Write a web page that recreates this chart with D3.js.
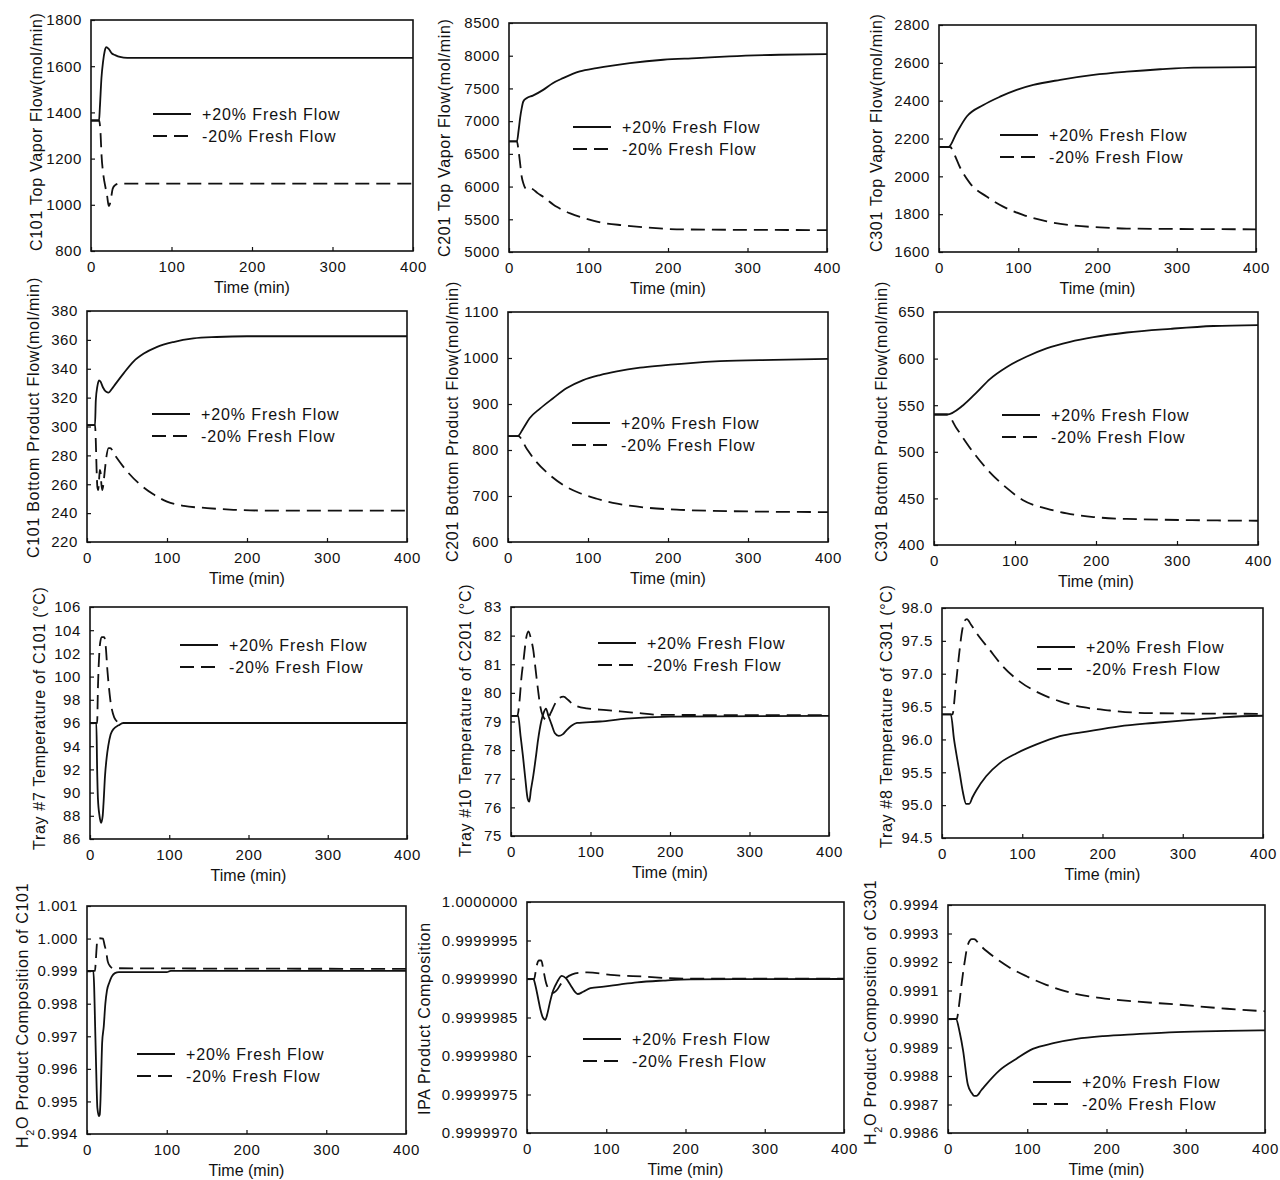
<!DOCTYPE html>
<html>
<head>
<meta charset="utf-8">
<script src="https://cdn.jsdelivr.net/npm/d3@7"></script>
<style>
  html, body { margin: 0; padding: 0; background: #fff; }
  svg { display: block; font-family: "Liberation Sans", Arial, sans-serif; }
</style>
</head>
<body>
<script>
// ---- shared axis values ----
const timeTicks = [0, 100, 200, 300, 400];
const seriesLabels = ["+20% Fresh Flow", "-20% Fresh Flow"];

// ---- C101 top vapor flow (mol/min) ----
const c101TopTicks = [800, 1000, 1200, 1400, 1600, 1800];
const c101TopUp = [[0,1365],[10,1365],[11,1420],[13,1550],[15,1620],[17,1665],[19,1682],[22,1675],[26,1655],[30,1648],[36,1640],[45,1636],[400,1636]];
const c101TopDown = [[0,1365],[10,1365],[12,1300],[13,1220],[15,1140],[18,1075],[20,1040],[22,995],[24,1010],[27,1070],[30,1085],[35,1092],[400,1092]];

// ---- C201 top vapor flow (mol/min) ----
const c201TopTicks = [5000, 5500, 6000, 6500, 7000, 7500, 8000, 8500];
const c201TopUp = [[0,6690],[10,6690],[12,6850],[14,7050],[16,7200],[18,7300],[22,7350],[30,7390],[43,7478],[55,7580],[68,7657],[89,7759],[110,7810],[130,7850],[152,7887],[194,7938],[236,7963],[277,7990],[340,8015],[400,8025]];
const c201TopDown = [[0,6690],[10,6690],[12,6550],[14,6350],[16,6150],[18,6050],[22,5960],[26,5975],[30,5960],[36,5900],[43,5843],[60,5690],[77,5590],[97,5510],[118,5445],[144,5408],[173,5375],[219,5345],[400,5335]];

// ---- C301 top vapor flow (mol/min) ----
const c301TopTicks = [1600, 1800, 2000, 2200, 2400, 2600, 2800];
const c301TopUp = [[0,2155],[12,2155],[22,2228],[35,2316],[56,2377],[77,2421],[98,2457],[119,2483],[153,2510],[195,2536],[237,2553],[279,2566],[321,2575],[400,2577]];
const c301TopDown = [[0,2155],[14,2155],[20,2110],[26,2052],[39,1964],[60,1893],[81,1840],[106,1796],[136,1762],[170,1740],[203,1730],[237,1724],[400,1720]];

// ---- C101 bottom product flow (mol/min) ----
const c101BotTicks = [220, 240, 260, 280, 300, 320, 340, 360, 380];
const c101BotUp = [[0,301],[10,301],[11,318],[13,328],[15,332],[17,331],[20,327],[24,324],[27,323.5],[31,326],[35,329],[46,337],[58,345],[71,350.5],[87,355],[108,358.5],[133,361],[162,362],[200,362.5],[400,362.5]];
const c101BotDown = [[0,301],[10,301],[11,290],[12,270],[13,258],[14,256],[15,262],[16,270],[17,268],[18,260],[19,256],[20,258],[22,268],[24,278],[27,285],[29,285],[35,280],[50,269],[66,260],[83,253],[100,248],[121,245],[150,243.5],[183,242.3],[220,241.8],[400,241.8]];

// ---- C201 bottom product flow (mol/min) ----
const c201BotTicks = [600, 700, 800, 900, 1000, 1100];
const c201BotUp = [[0,830],[12,830],[19,847],[27,869],[40,890],[56,912],[73,934],[94,952],[115,963],[136,971],[165,979],[194,984],[228,989],[265,993],[332,996],[400,998]];
const c201BotDown = [[0,830],[13,830],[23,804],[35,775],[52,746],[69,724],[90,706],[111,694],[131,685],[152,679],[177,674],[215,670],[278,667],[400,665]];

// ---- C301 bottom product flow (mol/min) ----
const c301BotTicks = [400, 450, 500, 550, 600, 650];
const c301BotUp = [[0,540],[16,540],[36,550],[53,564],[69,578],[90,591],[114,602],[139,611],[168,618],[197,623],[238,628],[292,632],[345,635],[400,636]];
const c301BotDown = [[0,540],[16,540],[28,525],[48,500],[69,478],[90,461],[110,448],[139,439],[164,434],[197,430],[238,428],[400,426]];

// ---- Tray #7 temperature of C101 (°C) ----
const c101TrayTicks = [86, 88, 90, 92, 94, 96, 98, 100, 102, 104, 106];
const c101TrayUp = [[0,96],[8,96],[9,92],[10,89.5],[12,88],[14,87.4],[16,88],[17,89],[19,91.5],[21,93],[23,94],[26,95],[30,95.5],[36,95.8],[42,96],[400,96]];
const c101TrayDown = [[0,96],[9,96],[10,99],[11,101],[13,103],[15,103.4],[18,103.4],[20,102.5],[22,100.5],[24,99],[26,97.8],[29,96.8],[32,96.3],[38,96],[400,96]];

// ---- Tray #10 temperature of C201 (°C) ----
const c201TrayTicks = [75, 76, 77, 78, 79, 80, 81, 82, 83];
const c201TrayUp = [[0,79.2],[9,79.2],[12,78.5],[15,77.8],[18,77],[21,76.3],[23,76.2],[25,76.6],[28,77.1],[31,77.7],[34,78.35],[38,79],[41,79.3],[44,79.45],[47,79.2],[51,78.9],[55,78.6],[60,78.5],[65,78.55],[70,78.7],[76,78.85],[83,78.95],[112,79.0],[145,79.1],[200,79.17],[400,79.2]];
const c201TrayDown = [[0,79.2],[8,79.2],[11,79.8],[13,80.5],[16,81.2],[19,81.9],[22,82.15],[25,81.9],[28,81.5],[31,80.8],[34,80.1],[37,79.5],[40,79.2],[45,79.05],[50,79.3],[55,79.6],[60,79.8],[66,79.87],[72,79.75],[78,79.6],[95,79.46],[120,79.4],[158,79.3],[190,79.23],[400,79.22]];

// ---- Tray #8 temperature of C301 (°C) ----
const c301TrayTicks = [94.5, 95.0, 95.5, 96.0, 96.5, 97.0, 97.5, 98.0];
const c301TrayUp = [[0,96.38],[11,96.38],[15,96.0],[19,95.7],[22,95.49],[26,95.2],[30,95.02],[34,95.02],[38,95.12],[43,95.23],[55,95.44],[72,95.64],[93,95.79],[117,95.92],[147,96.05],[180,96.12],[221,96.2],[263,96.25],[313,96.3],[354,96.34],[400,96.36]];
const c301TrayDown = [[0,96.38],[13,96.38],[17,96.8],[21,97.26],[25,97.65],[28,97.8],[31,97.83],[36,97.75],[43,97.62],[59,97.37],[76,97.11],[97,96.88],[122,96.7],[147,96.58],[176,96.49],[209,96.44],[259,96.4],[400,96.39]];

// ---- H2O product composition of C101 ----
const c101CompTicks = [0.994, 0.995, 0.996, 0.997, 0.998, 0.999, 1.000, 1.001];
const c101CompUp = [[0,0.99901],[8,0.99901],[9,0.9985],[10,0.9975],[11,0.9965],[12,0.9955],[13,0.9948],[15,0.99455],[16,0.9946],[17,0.9951],[18,0.996],[19,0.9968],[21,0.9973],[23,0.998],[25,0.9984],[28,0.99865],[31,0.99883],[35,0.99894],[40,0.99897],[100,0.99897],[105,0.99901],[400,0.99901]];
const c101CompDown = [[0,0.99901],[10,0.99901],[11,0.9993],[12,0.9997],[13,0.99998],[15,1.00001],[20,1.0],[22,0.9998],[24,0.9996],[26,0.9993],[29,0.99915],[33,0.99909],[400,0.99907]];

// ---- IPA product composition ----
const ipaCompTicks = [0.9999970, 0.9999975, 0.9999980, 0.9999985, 0.9999990, 0.9999995, 1.0000000];
const ipaCompUp = [[0,0.9999990],[8,0.9999990],[11,0.9999989],[14,0.99999875],[17,0.9999986],[20,0.9999985],[23,0.99999847],[26,0.99999856],[29,0.9999987],[33,0.99999885],[38,0.99999896],[44,0.99999904],[49,0.99999901],[55,0.99999892],[60,0.99999884],[64,0.999998805],[71,0.999998835],[80,0.99999888],[97,0.9999989],[118,0.99999893],[139,0.999998957],[172,0.99999898],[206,0.999998995],[400,0.9999990]];
const ipaCompDown = [[0,0.9999990],[9,0.9999990],[11,0.9999991],[13,0.9999992],[15,0.99999924],[18,0.99999924],[21,0.9999991],[24,0.99999895],[28,0.99999886],[33,0.99999882],[38,0.99999886],[43,0.99999894],[50,0.99999902],[57,0.99999906],[65,0.99999908],[76,0.999999085],[110,0.99999905],[150,0.99999903],[180,0.99999901],[210,0.999999005],[400,0.999999005]];

// ---- H2O product composition of C301 ----
const c301CompTicks = [0.9986, 0.9987, 0.9988, 0.9989, 0.9990, 0.9991, 0.9992, 0.9993, 0.9994];
const c301CompUp = [[0,0.99900],[10,0.99900],[15,0.99895],[19,0.99889],[25,0.99877],[30,0.99874],[33,0.99873],[36,0.99873],[42,0.99875],[48,0.99877],[65,0.99882],[86,0.99886],[107,0.998895],[133,0.998915],[162,0.99893],[196,0.99894],[238,0.998947],[288,0.998954],[352,0.998958],[400,0.99896]];
const c301CompDown = [[0,0.99900],[11,0.99900],[14,0.99905],[17,0.99912],[21,0.9992],[25,0.99926],[30,0.99928],[33,0.99928],[40,0.99926],[57,0.99922],[78,0.99918],[99,0.99915],[124,0.99912],[158,0.99909],[192,0.999074],[234,0.999062],[288,0.999051],[352,0.999036],[400,0.999027]];

// ---- panel layout: plot box [left, top, right, bottom], title x / start y, legend anchor ----
const panels = [
  { title: "C101 Top Vapor Flow(mol/min)", ticks: c101TopTicks, fmt: "d", up: c101TopUp, down: c101TopDown,
    box: [91, 20, 413, 251], tx: 36, ty: 251, legend: [153, 114] },
  { title: "C201 Top Vapor Flow(mol/min)", ticks: c201TopTicks, fmt: "d", up: c201TopUp, down: c201TopDown,
    box: [509, 23, 827, 252], tx: 444, ty: 257, legend: [573, 127] },
  { title: "C301 Top Vapor Flow(mol/min)", ticks: c301TopTicks, fmt: "d", up: c301TopUp, down: c301TopDown,
    box: [939, 25, 1256, 252], tx: 876, ty: 252, legend: [1000, 135] },
  { title: "C101 Bottom Product Flow(mol/min)", ticks: c101BotTicks, fmt: "d", up: c101BotUp, down: c101BotDown,
    box: [87, 311, 407, 542], tx: 33, ty: 558, legend: [152, 414] },
  { title: "C201 Bottom Product Flow(mol/min)", ticks: c201BotTicks, fmt: "d", up: c201BotUp, down: c201BotDown,
    box: [508, 312, 828, 542], tx: 452, ty: 562, legend: [572, 423] },
  { title: "C301 Bottom Product Flow(mol/min)", ticks: c301BotTicks, fmt: "d", up: c301BotUp, down: c301BotDown,
    box: [934, 312, 1258, 545], tx: 881, ty: 562, legend: [1002, 415] },
  { title: "Tray #7 Temperature of C101 (\u00B0C)", ticks: c101TrayTicks, fmt: "d", up: c101TrayUp, down: c101TrayDown,
    box: [90, 607, 407, 839], tx: 39, ty: 850, legend: [180, 645] },
  { title: "Tray #10 Temperature of C201 (\u00B0C)", ticks: c201TrayTicks, fmt: "d", up: c201TrayUp, down: c201TrayDown,
    box: [511, 607, 829, 836], tx: 465, ty: 857, legend: [598, 643] },
  { title: "Tray #8 Temperature of C301 (\u00B0C)", ticks: c301TrayTicks, fmt: ".1f", up: c301TrayUp, down: c301TrayDown,
    box: [942, 608, 1263, 838], tx: 886, ty: 848, legend: [1037, 647] },
  { title: ["H", "2", "O Product Composition of C101"], ticks: c101CompTicks, fmt: ".3f", up: c101CompUp, down: c101CompDown,
    box: [87, 906, 406, 1134], tx: 22, ty: 1148, legend: [137, 1054] },
  { title: "IPA Product Composition", ticks: ipaCompTicks, fmt: ".7f", up: ipaCompUp, down: ipaCompDown,
    box: [527, 902, 844, 1133], tx: 424, ty: 1115, legend: [583, 1039] },
  { title: ["H", "2", "O Product Composition of C301"], ticks: c301CompTicks, fmt: ".4f", up: c301CompUp, down: c301CompDown,
    box: [948, 905, 1265, 1133], tx: 870, ty: 1145, legend: [1033, 1082] }
];

const ink = "#111";
const dash = "14,7";

const svg = d3.select("body").append("svg")
  .attr("width", 1280).attr("height", 1180);

panels.forEach(p => {
  const [x0, y0, x1, y1] = p.box;
  const x = d3.scaleLinear().domain([0, 400]).range([x0, x1]);
  const y = d3.scaleLinear().domain(d3.extent(p.ticks)).range([y1, y0]);
  const g = svg.append("g");

  // bottom axis: ticks point into the plot
  const xAxis = g.append("g").attr("transform", `translate(0,${y1})`)
    .call(d3.axisBottom(x).tickValues(timeTicks).tickSizeInner(-4).tickSizeOuter(0).tickPadding(10).tickFormat(d3.format("d")));
  // left axis
  const yAxis = g.append("g").attr("transform", `translate(${x0},0)`)
    .call(d3.axisLeft(y).tickValues(p.ticks).tickSizeInner(-4).tickSizeOuter(0).tickPadding(9).tickFormat(d3.format(p.fmt)));

  [xAxis, yAxis].forEach(a => {
    a.select(".domain").remove();
    a.selectAll(".tick line").attr("stroke", ink).attr("stroke-width", 1.2);
    a.selectAll(".tick text").attr("fill", ink).style("font-size", "15px").style("letter-spacing", "0.6px");
  });

  // plot frame
  g.append("rect")
    .attr("x", x0).attr("y", y0).attr("width", x1 - x0).attr("height", y1 - y0)
    .attr("fill", "none").attr("stroke", ink).attr("stroke-width", 1.6);

  // response curves
  const line = d3.line().x(d => x(d[0])).y(d => y(d[1])).curve(d3.curveMonotoneX);
  g.append("path").datum(p.up).attr("d", line)
    .attr("fill", "none").attr("stroke", ink).attr("stroke-width", 1.8);
  g.append("path").datum(p.down).attr("d", line)
    .attr("fill", "none").attr("stroke", ink).attr("stroke-width", 1.8).attr("stroke-dasharray", dash);

  // x axis title
  g.append("text")
    .attr("x", (x0 + x1) / 2).attr("y", y1 + 42)
    .attr("text-anchor", "middle").attr("fill", ink)
    .style("font-size", "16px")
    .text("Time (min)");

  // y axis title, rotated
  const t = g.append("text")
    .attr("transform", `translate(${p.tx},${p.ty}) rotate(-90)`)
    .attr("dy", "0.35em")
    .attr("text-anchor", "start").attr("fill", ink)
    .style("font-size", "16px").style("letter-spacing", "0.7px");
  if (Array.isArray(p.title)) {
    t.append("tspan").text(p.title[0]);
    t.append("tspan").attr("baseline-shift", "sub").style("font-size", "11px").text(p.title[1]);
    t.append("tspan").text(p.title[2]);
  } else {
    t.text(p.title);
  }

  // legend
  const [lx, ly] = p.legend;
  seriesLabels.forEach((name, i) => {
    const yy = ly + i * 22;
    g.append("line")
      .attr("x1", lx).attr("x2", lx + 38).attr("y1", yy).attr("y2", yy)
      .attr("stroke", ink).attr("stroke-width", 1.8)
      .attr("stroke-dasharray", i === 1 ? dash : null);
    g.append("text")
      .attr("x", lx + 49).attr("y", yy).attr("dy", "0.35em")
      .attr("fill", ink).style("font-size", "16px").style("letter-spacing", "0.9px")
      .text(name);
  });
});
</script>
</body>
</html>
